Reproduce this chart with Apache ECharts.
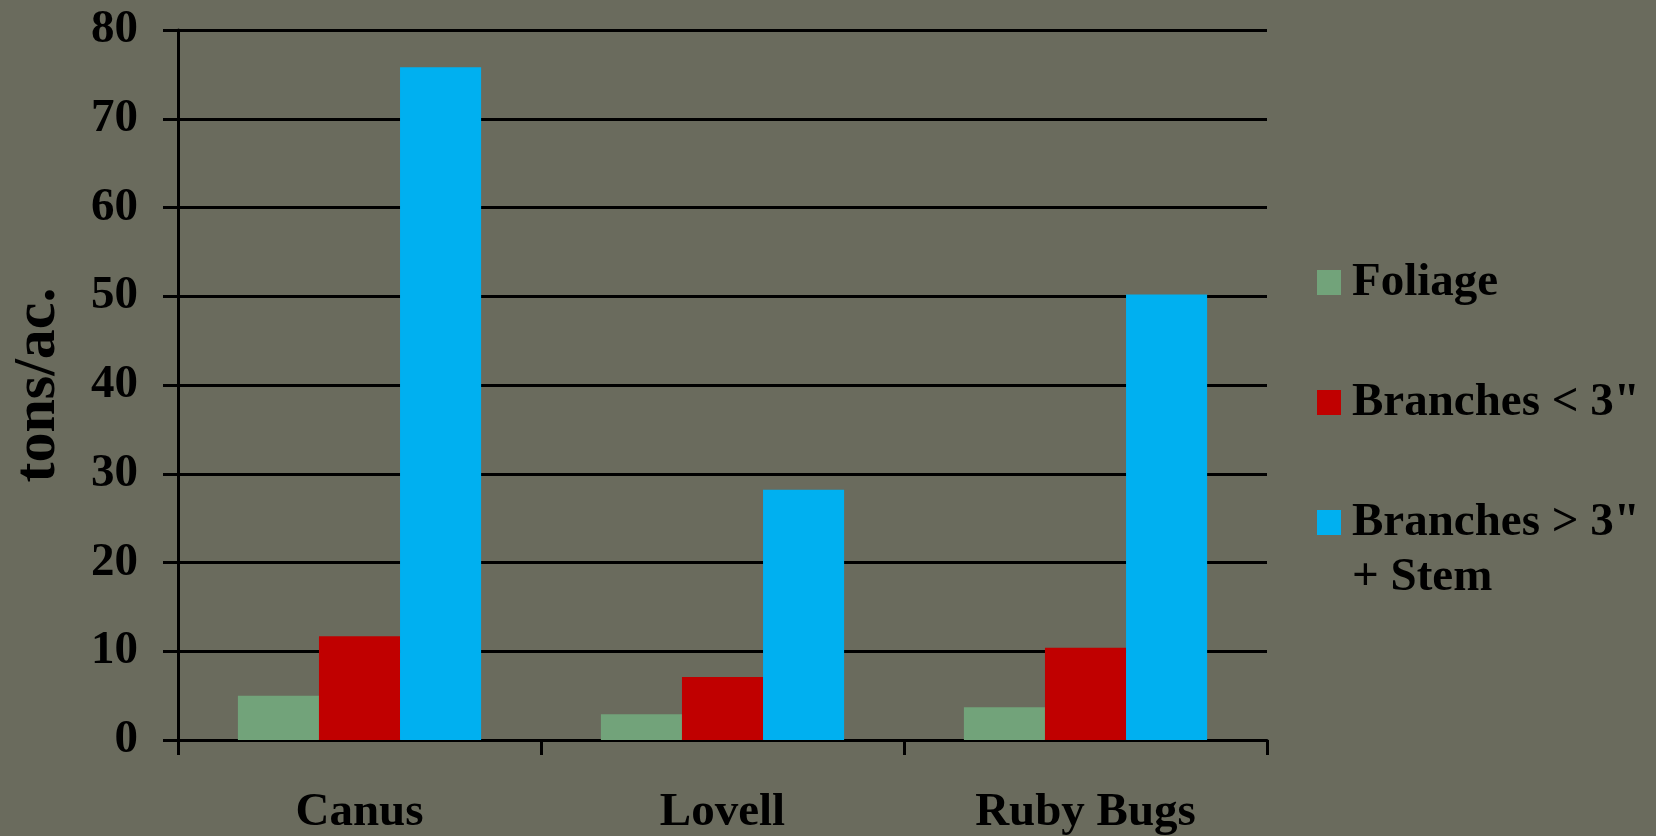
<!DOCTYPE html>
<html>
<head>
<meta charset="utf-8">
<style>
  html, body { margin: 0; padding: 0; background: #6a6b5d; }
  #chart { width: 1656px; height: 836px; }
</style>
<script src="https://cdn.jsdelivr.net/npm/echarts@6/dist/echarts.min.js"></script>
</head>
<body>
<div id="chart"></div>
<script>
// Biomass by component for three sites (tons per acre)
const categories = ['Canus', 'Lovell', 'Ruby Bugs'];
const foliage = [5.0, 2.9, 3.7];
const branchesSmall = [11.7, 7.1, 10.4];
const branchesLargeStem = [75.8, 28.2, 50.2];
const yTicks = { min: 0, max: 80, interval: 10 };

const seriesNames = ['Foliage', 'Branches < 3"', 'Branches > 3"'];
const seriesColors = ['#72a37a', '#c00000', '#00b0f0'];
const FONT = 'Liberation Serif';

const chart = echarts.init(document.getElementById('chart'));

const legendBase = {
  orient: 'vertical',
  left: 1317,
  padding: 0,
  itemWidth: 24,
  itemHeight: 25,
  selectedMode: false,
  icon: 'rect',
  textStyle: {
    fontFamily: FONT, fontWeight: 'bold', fontSize: 47,
    color: '#000', lineHeight: 55, padding: [0, 0, 0, 6]
  }
};

chart.setOption({
  backgroundColor: '#6a6b5d',
  animation: false,
  grid: { left: 177, right: 389, top: 30, bottom: 95, containLabel: false },
  legend: [
    Object.assign({}, legendBase, { top: 255, data: [seriesNames[0]] }),
    Object.assign({}, legendBase, { top: 375, data: [seriesNames[1]] }),
    Object.assign({}, legendBase, {
      top: 440,
      data: [seriesNames[2]],
      // empty first line keeps the icon level with the first text line
      formatter: () => ' \nBranches > 3"\n+ Stem'
    })
  ],
  xAxis: {
    type: 'category',
    data: categories,
    boundaryGap: true,
    axisLine: { lineStyle: { color: '#000', width: 3 } },
    axisTick: { show: true, length: 15, inside: false, lineStyle: { color: '#000', width: 3 } },
    axisLabel: {
      margin: 49, color: '#000', fontFamily: FONT, fontWeight: 'bold', fontSize: 47
    }
  },
  yAxis: {
    type: 'value',
    min: yTicks.min, max: yTicks.max, interval: yTicks.interval,
    name: 'tons/ac.',
    nameLocation: 'middle',
    nameRotate: 90,
    nameGap: 110,
    nameTextStyle: { color: '#000', fontFamily: FONT, fontWeight: 'bold', fontSize: 60 },
    axisLine: { show: true, lineStyle: { color: '#000', width: 3 } },
    axisTick: { show: true, length: 15, inside: false, lineStyle: { color: '#000', width: 3 } },
    splitLine: { show: true, lineStyle: { color: '#000', width: 3 } },
    axisLabel: {
      margin: 40, color: '#000', fontFamily: FONT, fontWeight: 'bold', fontSize: 47
    }
  },
  series: [
    { name: seriesNames[0], type: 'bar', data: foliage, itemStyle: { color: seriesColors[0] },
      barGap: '0%', barCategoryGap: '33%' },
    { name: seriesNames[1], type: 'bar', data: branchesSmall, itemStyle: { color: seriesColors[1] },
      barGap: '0%', barCategoryGap: '33%' },
    { name: seriesNames[2], type: 'bar', data: branchesLargeStem, itemStyle: { color: seriesColors[2] },
      barGap: '0%', barCategoryGap: '33%' }
  ]
});
</script>
</body>
</html>
